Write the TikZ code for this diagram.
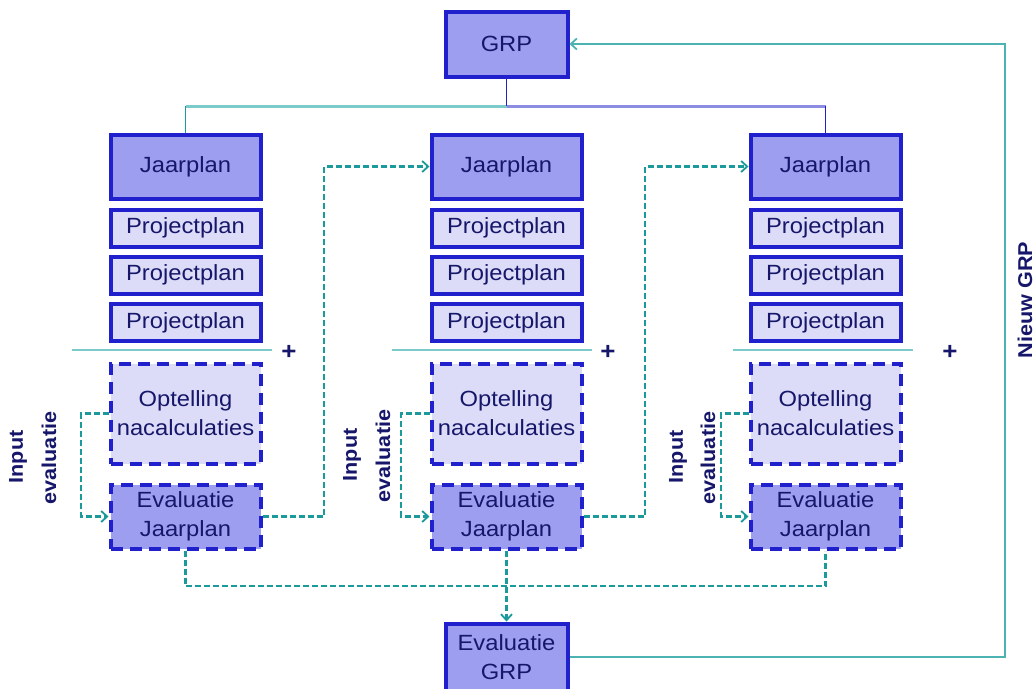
\documentclass[tikz,border=0pt]{standalone}
\usepackage{fontspec}
\setmainfont{Liberation Sans}[FakeStretch=1.08]
\usetikzlibrary{arrows.meta}
\definecolor{bfill}{HTML}{9E9EF0}
\definecolor{lfill}{HTML}{DCDCF8}
\definecolor{bbord}{HTML}{2020CC}
\definecolor{navy}{HTML}{16166A}
\definecolor{tealc}{HTML}{1A9A9A}
\definecolor{teallight}{HTML}{7CCACA}
\definecolor{lavline}{HTML}{8C8CE0}
\definecolor{nline}{HTML}{4CB2B2}
\tikzset{
  basebox/.style={draw=bbord, line width=4pt, text=navy, align=center, inner sep=0pt,
    font=\fontsize{22}{29}\selectfont},
  darkbox/.style={basebox, fill=bfill, minimum width=150pt, minimum height=64pt},
  projbox/.style={basebox, fill=lfill, minimum width=150pt, minimum height=37pt},
  optbox/.style={basebox, fill=lfill, dash pattern=on 12pt off 7pt, minimum width=150pt, minimum height=100pt},
  evbox/.style={basebox, fill=bfill, dash pattern=on 12pt off 7pt, minimum width=150pt, minimum height=64pt},
  topbox/.style={basebox, fill=bfill, minimum width=122pt, minimum height=65pt},
  tdash/.style={draw=tealc, line width=2.2pt, dash pattern=on 6pt off 3pt},
  tip/.style={-{Straight Barb[length=6pt,width=11pt,line width=1.8pt]}},
  sepline/.style={draw=teallight, line width=2pt},
  plus/.style={text=navy, font=\bfseries\fontsize{24}{24}\selectfont, inner sep=0pt},
  sidelbl/.style={rotate=90, text=navy, font=\bfseries\fontsize{20}{22}\selectfont, inner sep=0pt},
}
\begin{document}
\begin{tikzpicture}[x=1pt,y=-1pt]
\clip (0,0) rectangle (1036,688);
\fill[white] (0,0) rectangle (1036,688);

% top
\node[topbox] (GRP) at (506.5,44) {GRP};

% columns
\foreach \i/\cx in {1/185.5, 2/506.5, 3/825.5} {
  \node[darkbox] (J\i) at (\cx,166.5) {Jaarplan};
  \node[projbox] (Pa\i) at (\cx,228) {Projectplan};
  \node[projbox] (Pb\i) at (\cx,275) {Projectplan};
  \node[projbox] (Pc\i) at (\cx,322.5) {Projectplan};
  \node[optbox] (O\i) at (\cx,413.5) {Optelling\\nacalculaties};
  \node[evbox] (E\i) at (\cx,516.5) {Evaluatie\\Jaarplan};
}

\node[topbox, minimum height=67pt] (EG) at (506.5,657) {Evaluatie\\GRP};

% bus
\coordinate (bus) at (506.5,106);
\coordinate (busL) at (185.5,106);
\coordinate (busR) at (825.5,106);
\draw[draw=teallight, line width=3pt] (bus) -- (busL);
\draw[draw=lavline, line width=3pt] (bus) -- (busR);
\draw[draw=bbord, line width=1.8pt] (GRP.south) -- (bus);
\draw[draw=tealc, line width=1.8pt] (busL) -- (J1.north);
\draw[draw=bbord, line width=1.8pt] (busR) -- (J3.north);

% separators and plus
\draw[sepline] (72,350) -- (272,350);
\draw[sepline] (392,350) -- (592,350);
\draw[sepline] (733,350) -- (913,350);
\node[plus] (pl1) at (289,352) {+};
\node[plus] (pl2) at (608,352) {+};
\node[plus] (pl3) at (950,352) {+};

% side labels
\node[sidelbl] (in1) at (18,457) {Input};
\node[sidelbl] (ev1) at (49,458) {evaluatie};
\node[sidelbl] (in2) at (352,455) {Input};
\node[sidelbl] (ev2) at (383,456) {evaluatie};
\node[sidelbl] (in3) at (678,457) {Input};
\node[sidelbl] (ev3) at (708,458) {evaluatie};

% input loops
\draw[tdash, tip] (O1.west) -- (81,413.5) |- (E1.west);
\draw[tdash, tip] (O2.west) -- (401,413.5) |- (E2.west);
\draw[tdash, tip] (O3.west) -- (721,413.5) |- (E3.west);

% evaluatie -> next jaarplan
\draw[tdash, tip] (E1.east) -- (324,516.5) |- (J2.west);
\draw[tdash, tip] (E2.east) -- (645,516.5) |- (J3.west);

% bottom collector
\draw[tdash] (E1.south) -- (185.5,586) -| (E3.south);
\draw[tdash, tip] (E2.south) -- (EG.north);

% Nieuw GRP loop
\draw[draw=nline, line width=2.4pt, tip] (EG.east) -- (1005,657) |- (GRP.east);
\node[sidelbl] (ngrp) at (1025,300) {Nieuw GRP};
\end{tikzpicture}
\end{document}
